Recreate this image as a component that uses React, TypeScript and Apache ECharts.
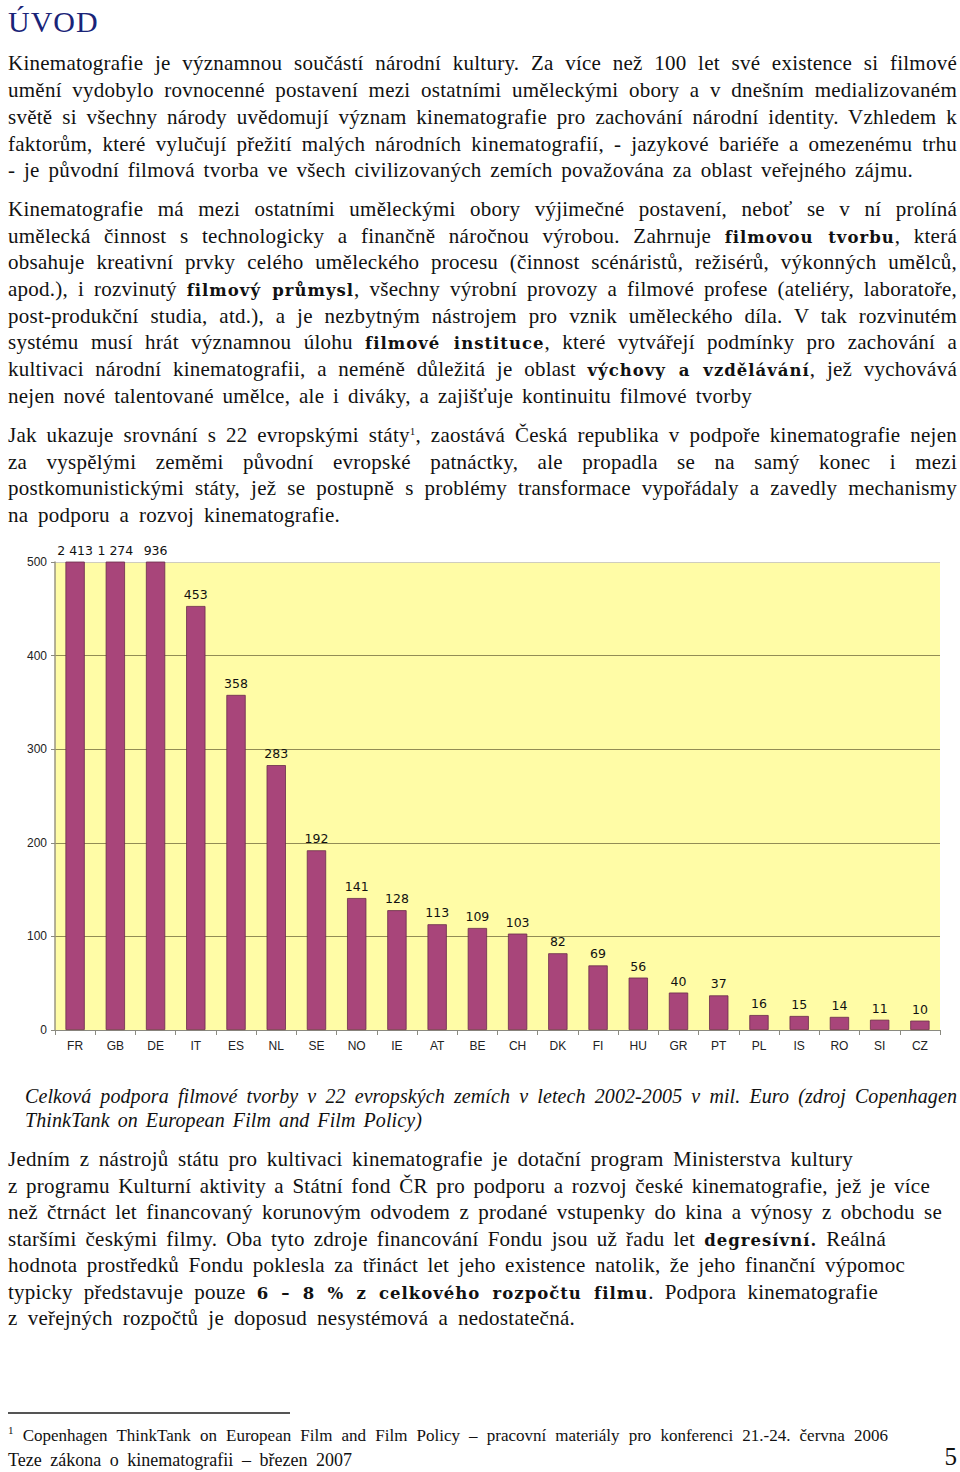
import React, { useEffect, useRef } from "react";
import * as echarts from "echarts";

const countries = ["FR", "GB", "DE", "IT", "ES", "NL", "SE", "NO", "IE", "AT", "BE", "CH", "DK", "FI", "HU", "GR", "PT", "PL", "IS", "RO", "SI", "CZ"];
const support = [2413, 1274, 936, 453, 358, 283, 192, 141, 128, 113, 109, 103, 82, 69, 56, 40, 37, 16, 15, 14, 11, 10];
const yMin = 0;
const yMax = 500;
const yStep = 100;

const SERIF = "'Liberation Serif', 'DejaVu Serif', serif";
const BOLD = "'DejaVu Serif', serif";

function fmt(v: number): string {
  if (v >= 1000) return Math.floor(v / 1000) + " " + String(v % 1000).padStart(3, "0");
  return String(v);
}

function Chart() {
  const ref = useRef<HTMLDivElement>(null);
  useEffect(() => {
    if (!ref.current) return;
    const chart = echarts.init(ref.current, undefined, { renderer: "svg" });
    chart.setOption({
      animation: false,
      grid: {
        left: 55,
        right: 20,
        top: 22,
        bottom: 40,
        show: true,
        backgroundColor: "#FFFCA6",
        borderWidth: 0,
      },
      xAxis: {
        type: "category",
        data: countries,
        axisLine: { lineStyle: { color: "#8a8a80", width: 1 } },
        axisTick: { show: true, alignWithLabel: false, length: 5, lineStyle: { color: "#8a8a80" } },
        axisLabel: { color: "#222", fontSize: 12, fontFamily: "'Liberation Sans', Arial, sans-serif", margin: 10 },
      },
      yAxis: {
        type: "value",
        min: yMin,
        max: yMax,
        interval: yStep,
        axisLine: { show: true, lineStyle: { color: "#9a9680", width: 1.5 } },
        axisTick: { show: true, length: 4, lineStyle: { color: "#8a8a80" } },
        axisLabel: { color: "#222", fontSize: 12, fontFamily: "'Liberation Sans', Arial, sans-serif", margin: 8 },
        splitLine: {
          show: true,
          lineStyle: {
            color: ["#8a8a80", "#928c55", "#928c55", "#928c55", "#928c55", "#cfcdbf"],
            width: 1,
          },
        },
      },
      series: [
        {
          type: "bar",
          data: support,
          barWidth: "48%",
          clip: true,
          itemStyle: { color: "#A8457A", borderColor: "#6a2c4a", borderWidth: 0.8 },
          label: {
            show: true,
            position: "top",
            distance: 5,
            color: "#111",
            fontSize: 12.5,
            fontFamily: "'DejaVu Sans', Verdana, sans-serif",
            formatter: (p: any) => fmt(p.value),
          },
        },
      ],
    });
    return () => chart.dispose();
  }, []);
  return <div ref={ref} style={{ position: "absolute", left: 0, top: 540, width: 960, height: 530 }} />;
}

type LineProps = {
  y: number;
  left?: number;
  right: number;
  size?: number;
  lh?: number;
  ls?: number;
  italic?: boolean;
  children: React.ReactNode;
};

function Line({ y, left = 8, right, size = 21, lh = 26, ls = 0.25, italic = false, children }: LineProps) {
  return (
    <div
      style={{
        position: "absolute",
        top: y - lh / 2,
        left,
        width: right - left,
        height: lh,
        lineHeight: lh + "px",
        fontFamily: SERIF,
        fontSize: size,
        letterSpacing: ls + "px",
        fontStyle: italic ? "italic" : "normal",
        color: "#111",
        textAlign: "justify",
        textAlignLast: "justify",
        overflow: "visible",
      }}
    >
      {children}
    </div>
  );
}

function B({ children, size = 16.5 }: { children: React.ReactNode; size?: number }) {
  return (
    <span style={{ fontFamily: BOLD, fontWeight: "bold", fontSize: size, letterSpacing: "1px" }}>{children}</span>
  );
}

function Sup({ children }: { children: React.ReactNode }) {
  return <span style={{ fontSize: 11, verticalAlign: "7px", lineHeight: 0 }}>{children}</span>;
}

export default function App() {
  return (
    <div
      style={{
        position: "absolute",
        left: 0,
        top: 0,
        width: 960,
        height: 1472,
        background: "#fff",
        overflow: "hidden",
      }}
    >
      <div
        style={{
          position: "absolute",
          left: 8,
          top: 4,
          fontFamily: SERIF,
          fontSize: 30,
          lineHeight: "36px",
          color: "#1A2478",
          letterSpacing: "1px",
        }}
      >
        ÚVOD
      </div>

      <Line y={63} right={957}>Kinematografie je významnou součástí národní kultury. Za více než 100 let své existence si filmové</Line>
      <Line y={90} right={957}>umění vydobylo rovnocenné postavení mezi ostatními uměleckými obory a v dnešním medializovaném</Line>
      <Line y={117} right={957}>světě si všechny národy uvědomují význam kinematografie pro zachování národní identity. Vzhledem k</Line>
      <Line y={144} right={957}>faktorům, které vylučují přežití malých národních kinematografií, - jazykové bariéře a omezenému trhu</Line>
      <Line y={170} right={913}>- je původní filmová tvorba ve všech civilizovaných zemích považována za oblast veřejného zájmu.</Line>

      <Line y={209} right={957}>Kinematografie má mezi ostatními uměleckými obory výjimečné postavení, neboť se v ní prolíná</Line>
      <Line y={236} right={957}>umělecká činnost s technologicky a finančně náročnou výrobou. Zahrnuje <B>filmovou tvorbu</B>, která</Line>
      <Line y={262} right={957}>obsahuje kreativní prvky celého uměleckého procesu (činnost scénáristů, režisérů, výkonných umělců,</Line>
      <Line y={289} right={957}>apod.), i rozvinutý <B>filmový průmysl</B>, všechny výrobní provozy a filmové profese (ateliéry, laboratoře,</Line>
      <Line y={316} right={957}>post-produkční studia, atd.), a je nezbytným nástrojem pro vznik uměleckého díla. V tak rozvinutém</Line>
      <Line y={342} right={957}>systému musí hrát významnou úlohu <B>filmové instituce</B>, které vytvářejí podmínky pro zachování a</Line>
      <Line y={369} right={957}>kultivaci národní kinematografii, a neméně důležitá je oblast <B>výchovy a vzdělávání</B>, jež vychovává</Line>
      <Line y={396} right={752}>nejen nové talentované umělce, ale i diváky, a zajišťuje kontinuitu filmové tvorby</Line>

      <Line y={435} right={957}>Jak ukazuje srovnání s 22 evropskými státy<Sup>1</Sup>, zaostává Česká republika v podpoře kinematografie nejen</Line>
      <Line y={462} right={957}>za vyspělými zeměmi původní evropské patnáctky, ale propadla se na samý konec i mezi</Line>
      <Line y={488} right={957}>postkomunistickými státy, jež se postupně s problémy transformace vypořádaly a zavedly mechanismy</Line>
      <Line y={515} right={340}>na podporu a rozvoj kinematografie.</Line>

      <Chart />

      <Line y={1096} left={25} right={957} size={20} lh={24} ls={0.1} italic>Celková podpora filmové tvorby v 22 evropských zemích v letech 2002-2005 v mil. Euro (zdroj Copenhagen</Line>
      <Line y={1120} left={25} right={422} size={20} lh={24} ls={0.1} italic>ThinkTank on European Film and Film Policy)</Line>

      <Line y={1159} right={853}>Jedním z nástrojů státu pro kultivaci kinematografie je dotační program Ministerstva kultury</Line>
      <Line y={1186} right={930}>z programu Kulturní aktivity a Státní fond ČR pro podporu a rozvoj české kinematografie, jež je více</Line>
      <Line y={1212} right={942}>než čtrnáct let financovaný korunovým odvodem z prodané vstupenky do kina a výnosy z obchodu se</Line>
      <Line y={1239} right={886}>staršími českými filmy. Oba tyto zdroje financování Fondu jsou už řadu let <B>degresívní.</B> Reálná</Line>
      <Line y={1265} right={905}>hodnota prostředků Fondu poklesla za třináct let jeho existence natolik, že jeho finanční výpomoc</Line>
      <Line y={1292} right={878}>typicky představuje pouze <B>6 – 8 % z celkového rozpočtu filmu</B>. Podpora kinematografie</Line>
      <Line y={1318} right={575}>z veřejných rozpočtů je doposud nesystémová a nedostatečná.</Line>

      <div style={{ position: "absolute", left: 8, top: 1412, width: 282, height: 1.5, background: "#555" }} />
      <Line y={1436} right={888} size={17} lh={22} ls={0}><Sup>1</Sup> Copenhagen ThinkTank on European Film and Film Policy – pracovní materiály pro konferenci 21.-24. června 2006</Line>
      <Line y={1460} right={352} size={18} lh={22} ls={0}>Teze zákona o kinematografii – březen 2007</Line>
      <div
        style={{
          position: "absolute",
          right: 3,
          top: 1443,
          fontFamily: SERIF,
          fontSize: 25,
          lineHeight: "28px",
          color: "#111",
        }}
      >
        5
      </div>
    </div>
  );
}
